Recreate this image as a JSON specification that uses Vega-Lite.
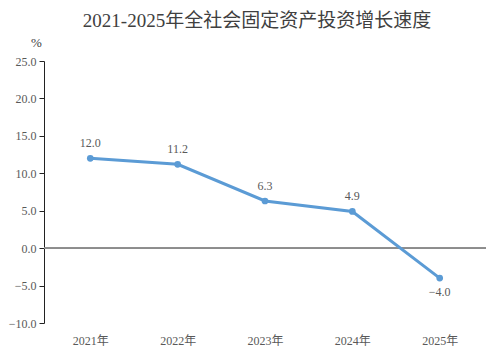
{
  "$schema": "https://vega.github.io/schema/vega-lite/v6.json",
  "width": 442,
  "height": 262,
  "autosize": {"type": "none"},
  "padding": {"left": 44, "top": 61, "right": 12, "bottom": 40},
  "background": "white",
  "title": {
    "text": "2021-2025年全社会固定资产投资增长速度",
    "font": "Liberation Serif, Noto Sans CJK SC",
    "fontSize": 19,
    "fontWeight": "normal",
    "color": "#404040",
    "anchor": "middle",
    "dx": -8,
    "offset": 5
  },
  "config": {
    "view": {"stroke": null},
    "font": "Liberation Serif, Noto Sans CJK SC"
  },
  "data": {
    "values": [
      {"year": "2021年", "value": 12.0},
      {"year": "2022年", "value": 11.2},
      {"year": "2023年", "value": 6.3},
      {"year": "2024年", "value": 4.9},
      {"year": "2025年", "value": -4.0}
    ]
  },
  "encoding": {
    "x": {
      "field": "year",
      "type": "ordinal",
      "scale": {"type": "point", "padding": 0.53},
      "axis": {
        "title": null,
        "labelAngle": 0,
        "domain": false,
        "ticks": false,
        "labelPadding": 12,
        "labelFontSize": 12,
        "labelColor": "#595959",
        "labelFont": "Liberation Serif, Noto Sans CJK SC"
      }
    },
    "y": {
      "field": "value",
      "type": "quantitative",
      "scale": {"domain": [-10, 25], "nice": false, "zero": false},
      "axis": {
        "title": "%",
        "titleAngle": 0,
        "titleX": -8,
        "titleY": -12,
        "titleAlign": "center",
        "titleBaseline": "bottom",
        "titleFontSize": 13,
        "titleFontWeight": "normal",
        "titleColor": "#404040",
        "values": [-10, -5, 0, 5, 10, 15, 20, 25],
        "format": ".1f",
        "grid": false,
        "domainColor": "#222222",
        "tickColor": "#222222",
        "tickSize": 5,
        "labelPadding": 3,
        "labelFontSize": 12,
        "labelColor": "#595959",
        "labelFont": "Liberation Serif, Noto Sans CJK SC"
      }
    }
  },
  "layer": [
    {
      "mark": {"type": "rule", "color": "#8c8c8c", "strokeWidth": 1.5},
      "encoding": {"y": {"datum": 0}, "x": null}
    },
    {
      "mark": {"type": "line", "color": "#5b9bd5", "strokeWidth": 3, "point": {"filled": true, "size": 45, "color": "#5b9bd5"}}
    },
    {
      "transform": [{"filter": "datum.value >= 0"}],
      "mark": {"type": "text", "dy": -15, "fontSize": 12, "color": "#595959"},
      "encoding": {"text": {"field": "value", "type": "quantitative", "format": ".1f"}}
    },
    {
      "transform": [{"filter": "datum.value < 0"}],
      "mark": {"type": "text", "dy": 14, "fontSize": 12, "color": "#595959"},
      "encoding": {"text": {"field": "value", "type": "quantitative", "format": ".1f"}}
    }
  ]
}
